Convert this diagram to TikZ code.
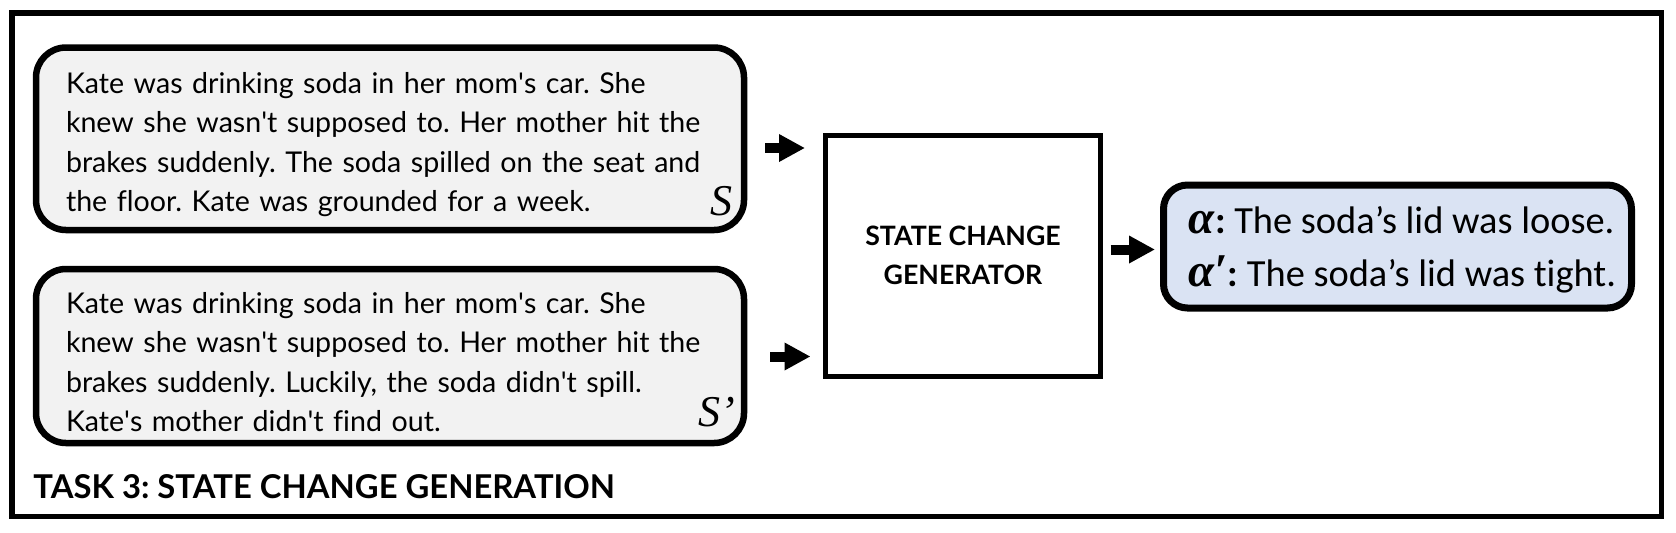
\documentclass[tikz,border=0pt]{standalone}
\usepackage{amsmath}
\usepackage{fontspec}
\setmainfont{Lato}[Ligatures={TeX,CommonOff}]
\newfontfamily\calibrifont{Carlito}[Ligatures=CommonOff]
\newfontfamily\labelfont{Liberation Serif}
\usetikzlibrary{arrows.meta,positioning}

\definecolor{storygray}{HTML}{F2F2F2}
\definecolor{outblue}{HTML}{DAE3F3}
\newcommand{\apos}{\textquotesingle}

\tikzset{
  storybox/.style={draw, line width=3.25pt, rounded corners=15pt, fill=storygray,
    minimum width=354pt},
  storytext/.style={text width=324pt, inner sep=0pt, align=left,
    font=\fontsize{14.3}{19.75}\selectfont},
  genbox/.style={draw, line width=2.5pt, minimum width=137.5pt, minimum height=120.5pt,
    align=center, font=\bfseries\fontsize{13.35}{19.8}\selectfont},
  outbox/.style={draw, line width=3.5pt, rounded corners=12pt, fill=outblue,
    minimum width=234pt, minimum height=61.5pt},
  outtext/.style={inner sep=0pt, align=left, font=\calibrifont\fontsize{19.2}{26.5}\selectfont},
  blockarrow/.style={-{Triangle[length=13pt,width=13pt]}, line width=5pt},
  varlabel/.style={font=\labelfont\itshape\fontsize{22}{22}\selectfont, inner sep=0pt}
}
\newcommand{\varsym}[1]{{\labelfont\bfseries\itshape\fontsize{23.5}{23.5}\selectfont #1}}

\begin{document}
\frenchspacing
\begin{tikzpicture}[x=0.5pt,y=-0.5pt]
  \useasboundingbox (0,0) rectangle (1676,532);
  % outer frame
  \draw[line width=2.75pt] (12,13) rectangle (1661.5,516.5);

  % the two stories
  \node[storybox, minimum height=91.25pt] (storyA) at (390,138.75) {};
  \node[storybox, minimum height=87pt] (storyB) at (390,356) {};
  \node[storytext] (textA) at ([yshift=-2.8pt]storyA.center) {Kate was drinking soda in her mom\apos{}s car. She\\
    knew she wasn\apos{}t supposed to. Her mother hit the\\
    brakes suddenly. The soda spilled on the seat and\\
    the floor. Kate was grounded for a week.};
  \node[storytext] (textB) at ([yshift=-3pt]storyB.center) {Kate was drinking soda in her mom\apos{}s car. She\\
    knew she wasn\apos{}t supposed to. Her mother hit the\\
    brakes suddenly. Luckily, the soda didn\apos{}t spill.\\
    Kate\apos{}s mother didn\apos{}t find out.};
  \node[varlabel, anchor=base east] (labA) at (733,215) {S};
  \node[varlabel, anchor=base east] (labB) at (736,426.5) {S’};

  % generator
  \node[genbox] (gen) at (963,255.5) {STATE CHANGE\\GENERATOR};

  % output
  \node[outbox] (out) at (1397.5,246.5) {};
  \node[outtext, anchor=west] (outT) at ([xshift=14pt,yshift=-1.5pt]out.west) {\varsym{α}\textbf{:} The soda’s lid was loose.\\
    \varsym{α′}\textbf{:} The soda’s lid was tight.};

  % arrows
  \coordinate (inA) at (765,148);
  \coordinate (inAend) at (805,148);
  \coordinate (inB) at (770,356.5);
  \coordinate (inBend) at (810.5,356.5);
  \coordinate (outS) at (1110.5,249.5);
  \coordinate (outE) at (1155,249.5);
  \draw[blockarrow] (inA) -- (inAend);
  \draw[blockarrow] (inB) -- (inBend);
  \draw[blockarrow] (outS) -- (outE);

  % task title
  \node[anchor=base west, inner sep=0pt, font=\bfseries\fontsize{16.4}{16.4}\selectfont] (title) at (33,498) {TASK 3: STATE CHANGE GENERATION};
\end{tikzpicture}
\end{document}
